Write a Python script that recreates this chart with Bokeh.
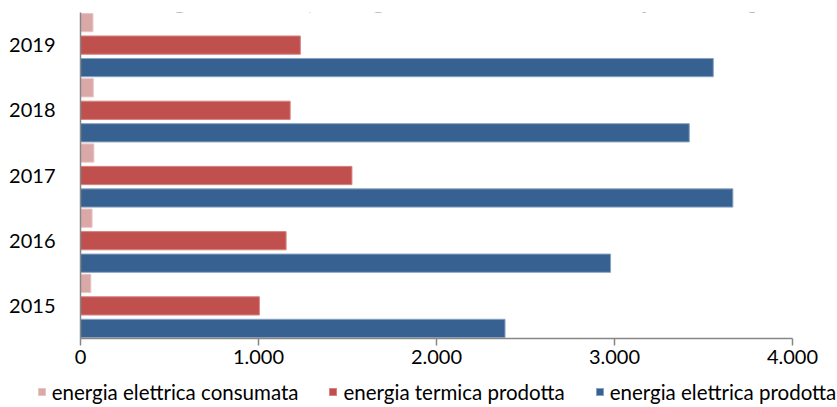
from bokeh.plotting import figure
from bokeh.layouts import column
from bokeh.models import (FactorRange, FixedTicker, Label, ColumnDataSource, Div)
from bokeh.transform import dodge
from bokeh.embed import file_html
from bokeh.resources import INLINE

# Annual energy figures [MWh]
years = ["2015", "2016", "2017", "2018", "2019"]
el_consumata = [58, 65, 75, 72, 70]
termica_prodotta = [1005, 1155, 1525, 1178, 1235]
el_prodotta = [2385, 2978, 3665, 3420, 3555]

series_names = ["energia elettrica consumata",
                "energia termica prodotta",
                "energia elettrica prodotta"]
series_fill = ["#DBA8A8", "#C0504D", "#366191"]
series_edge = ["#E8C6C6", "#D98482", "#89A3C4"]
x_ticks = [0, 1000, 2000, 3000, 4000]
x_tick_labels = ["0", "1.000", "2.000", "3.000", "4.000"]
title_text = "Energia elettrica, energia termica ed elettrica prodotta [MWh]"

FONT = "Lato"
AXIS_GREY = "#868686"

source = ColumnDataSource(dict(year=years, cons=el_consumata,
                               term=termica_prodotta, prod=el_prodotta))

p = figure(width=837, height=372,
           y_range=FactorRange(factors=years), x_range=(0, 4000),
           output_backend="svg", toolbar_location=None,
           min_border_left=80, min_border_right=45,
           min_border_top=12, min_border_bottom=34)

bar_h = 0.28
for field, off, fc, lc in zip(["cons", "term", "prod"], [0.345, 0.0, -0.345],
                              series_fill, series_edge):
    p.hbar(y=dodge("year", off, range=p.y_range), left=0, right=field,
           height=bar_h, source=source,
           fill_color=fc, line_color=lc, line_width=1)

# axes
p.xaxis.ticker = FixedTicker(ticks=x_ticks)
p.xaxis.major_label_overrides = dict(zip(x_ticks, x_tick_labels))
p.xaxis.major_tick_out = 7
p.xaxis.major_tick_in = 0
p.xaxis.minor_tick_out = 0
p.xaxis.minor_tick_in = 0
p.xaxis.major_label_standoff = 4

p.yaxis.major_tick_out = 0
p.yaxis.major_tick_in = 0
p.yaxis.major_label_standoff = 25

for ax in (p.xaxis[0], p.yaxis[0]):
    ax.axis_line_color = AXIS_GREY
    ax.axis_line_width = 1.5
    ax.major_tick_line_color = AXIS_GREY
    ax.major_tick_line_width = 1.5
    ax.major_label_text_font = FONT
    ax.major_label_text_font_size = "20px"
    ax.major_label_text_color = "#000000"

p.xgrid.grid_line_color = None
p.ygrid.grid_line_color = None
p.outline_line_color = None

# chart title sits just above the canvas top edge
title = Label(x=225, y=5, y_offset=14, text=title_text,
              text_font=FONT, text_font_style="bold", text_font_size="26px",
              text_color="#7F7F7F", text_baseline="alphabetic", text_align="left")
p.add_layout(title)

# horizontal legend strip under the chart
entries = []
for i, (name, fc, lc) in enumerate(zip(series_names, series_fill, series_edge)):
    gap = "0" if i == len(series_names) - 1 else "31px"
    entries.append(
        f'<span style="display:inline-block;width:8px;height:8px;background:{fc};'
        f'border:1px solid {lc};margin-right:6px;"></span>'
        f'<span style="margin-right:{gap};">{name}</span>'
    )
legend_html = (
    '<div style="display:flex;justify-content:center;align-items:center;'
    'width:837px;height:35px;box-sizing:border-box;padding-left:37px;'
    f'padding-top:5px;font-family:{FONT};font-size:20.5px;color:#000000;'
    'white-space:nowrap;line-height:1;">' + "".join(entries) + '</div>'
)
legend_div = Div(text=legend_html, width=837, height=35, margin=(0, 0, 0, 0))

layout = column(p, legend_div, spacing=0)
open("out.html", "w").write(file_html(layout, INLINE))
